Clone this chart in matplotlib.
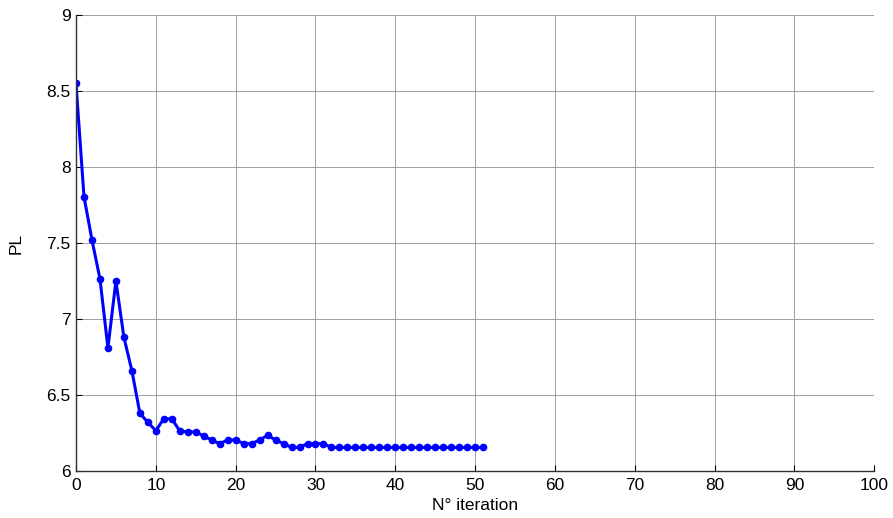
import matplotlib
matplotlib.use("Agg")
import matplotlib.pyplot as plt

plt.rcParams['font.family'] = ['Liberation Sans', 'DejaVu Sans']

# PL value at each iteration
iterations = list(range(52))
pl = [8.55, 7.805, 7.52, 7.265, 6.81, 7.25, 6.88, 6.66, 6.38, 6.32,
      6.265, 6.344, 6.344, 6.263, 6.257, 6.257, 6.23, 6.204, 6.18, 6.204,
      6.204, 6.18, 6.18, 6.204, 6.235, 6.204, 6.18, 6.155, 6.155, 6.18,
      6.18, 6.18] + [6.155] * 20

fig = plt.figure(figsize=(8.93, 5.18), dpi=100)
ax = fig.add_axes([76 / 893, 1 - 471 / 518, (874.3 - 76) / 893, (471 - 15) / 518])

ax.plot(iterations, pl, color='#0000ff', linewidth=2.2, marker='o', markersize=4.5)

ax.set_xlim(0, 100)
ax.set_ylim(6, 9)
ax.set_xticks(range(0, 101, 10))
ax.set_yticks([6, 6.5, 7, 7.5, 8, 8.5, 9])
ax.set_yticklabels(['6', '6.5', '7', '7.5', '8', '8.5', '9'])
ax.tick_params(direction='in', length=4, width=0.8, labelsize=12.5)
ax.tick_params(axis='x', pad=5)
ax.tick_params(axis='y', pad=4)

ax.grid(True, color='#a0a0a0', linewidth=0.7, linestyle='-')
ax.set_axisbelow(True)
for side in ['top', 'right']:
    ax.spines[side].set_visible(False)
for side in ['left', 'bottom']:
    ax.spines[side].set_linewidth(1.0)
    ax.spines[side].set_color('#303030')

ax.set_xlabel('N° iteration', fontsize=12.5, labelpad=4)
ax.set_ylabel('PL', fontsize=12.5, labelpad=16)

fig.savefig('out.png', dpi=100)
